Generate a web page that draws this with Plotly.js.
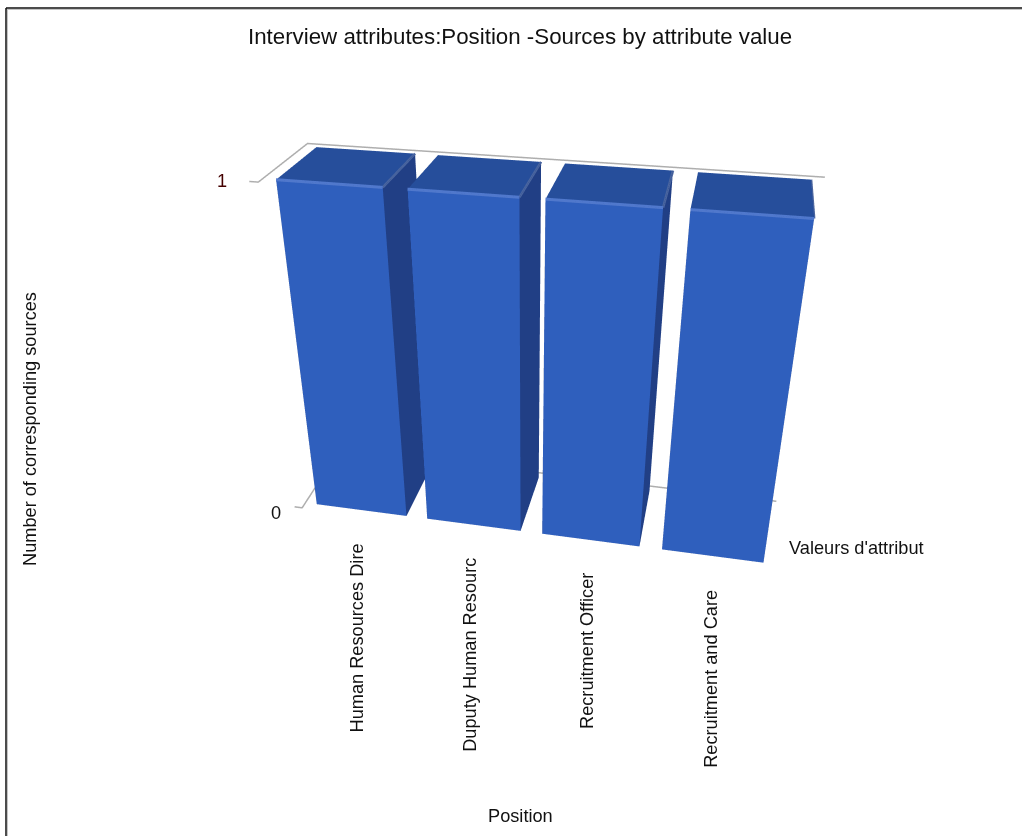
<!DOCTYPE html>
<html><head><meta charset="utf-8">
<script src="https://cdn.plot.ly/plotly-3.0.1.min.js"></script>
<style>html,body{margin:0;padding:0;background:#fff;overflow:hidden;width:1022px;height:836px}
#chart{position:absolute;left:0;top:-47px;width:1044px;height:883px}</style>
</head><body><div id="chart"></div>
<script>
const categories = ["Human Resources Dire", "Duputy Human Resourc", "Recruitment Officer", "Recruitment and Care"];
const counts = [1, 1, 1, 1];
const yTicks = [0, 1];
const chartTitle = "Interview attributes:Position -Sources by attribute value";
const yTitle = "Number of corresponding sources";
const xTitle = "Position";
const depthTitle = "Valeurs d'attribut";

const W = 1044, H = 883, TOP = 47, SCENE_H = 866;
const FRONT = "#2f5fbd", TOPFACE = "#264e9b", SIDE = "#213f85";
const FONT = "Liberation Sans";
const px = x => x / W, py = y => 1 - (y + TOP) / H;

// one box per category; flat face colours give the lit-from-front look
const xs=[], ys=[], zs=[], is=[], js=[], ks=[], cols=[];
const BAR_START = 0.105, BAR_END = 0.92, D0 = 0.08, D1 = 0.92;
counts.forEach((v, c) => {
  const n = xs.length, x0 = c + BAR_START, x1 = c + BAR_END;
  [[x0,D0,0],[x1,D0,0],[x1,D1,0],[x0,D1,0],[x0,D0,v],[x1,D0,v],[x1,D1,v],[x0,D1,v]]
    .forEach(p => { xs.push(p[0]); ys.push(p[1]); zs.push(p[2]); });
  const faces = [[0,1,5,4,FRONT],[1,2,6,5,SIDE],[4,5,6,7,TOPFACE],[3,0,4,7,SIDE],[2,3,7,6,SIDE],[0,3,2,1,SIDE]];
  faces.forEach(f => {
    is.push(n+f[0]); js.push(n+f[1]); ks.push(n+f[2]); cols.push(f[4]);
    is.push(n+f[0]); js.push(n+f[2]); ks.push(n+f[3]); cols.push(f[4]);
  });
});
const boxes = {type:"mesh3d", x:xs, y:ys, z:zs, i:is, j:js, k:ks, facecolor:cols, flatshading:true,
  lighting:{ambient:1,diffuse:0,specular:0,fresnel:0,roughness:1}, hoverinfo:"skip", showscale:false};

// bevel highlights along each box's top front and top right edges
const fx=[],fy=[],fz=[],sx=[],sy=[],sz=[];
counts.forEach((v,c)=>{const x0=c+BAR_START,x1=c+BAR_END;
  fx.push(x0,x1,null);fy.push(D0,D0,null);fz.push(v,v,null);
  sx.push(x1,x1,null);sy.push(D0,D1,null);sz.push(v,v,null);});
const bevelFront = {type:"scatter3d",mode:"lines",x:fx,y:fy,z:fz,line:{color:"#5078cc",width:6},hoverinfo:"skip",showlegend:false};
const bevelSide = {type:"scatter3d",mode:"lines",x:sx,y:sy,z:sz,line:{color:"#4a659f",width:5},hoverinfo:"skip",showlegend:false};

// wall outlines and the small tick stubs at each count
const STUB = -0.07;
const wx=[],wy=[],wz=[];
yTicks.forEach(t=>{wx.push(STUB,0,0,4.02,null);wy.push(0,0,1,1,null);wz.push(t,t,t,t,null);});
const walls = {type:"scatter3d",mode:"lines",x:wx,y:wy,z:wz,line:{color:"#aeaeae",width:3},hoverinfo:"skip",showlegend:false};

const hiddenAxis = r => ({visible:false,range:r,autorange:false,showspikes:false});
const ann3d = (x,y,z,text,o) => Object.assign({x,y,z,text,showarrow:false,font:{family:FONT,size:18.2,color:"#111"}},o);
const sceneAnn = categories.map((c,i)=>ann3d(i+0.5,0,0,c,{textangle:-90,xanchor:"center",yanchor:"top",yshift:-26}))
  .concat(yTicks.map(t=>ann3d(STUB,0,t,String(t),{xanchor:"right",xshift:t?-20:-12,yshift:t?0:-6,font:{family:FONT,size:18.2,color:t?"#400":"#111"}})));

const flat = (x,y,text,o) => Object.assign({xref:"paper",yref:"paper",x:px(x),y:py(y),text,showarrow:false,xanchor:"center",yanchor:"middle",font:{family:FONT,size:18.2,color:"#111"}},o);
const rule = (x0,y0,x1,y1,color,width) => ({type:"line",xref:"paper",yref:"paper",x0:px(x0),x1:px(x1),y0:py(y0),y1:py(y1),line:{color,width}});

const layout = {width:W,height:H,margin:{l:0,r:0,t:0,b:0,pad:0},paper_bgcolor:"#fff",showlegend:false,
  scene:{domain:{x:[0,1],y:[(H-SCENE_H)/H,1]},aspectmode:"manual",aspectratio:{x:1.1,y:0.2344,z:0.734},
    xaxis:hiddenAxis([-0.2,4.2]),yaxis:hiddenAxis([0,1]),zaxis:hiddenAxis([0,1]),
    camera:{eye:{x:0.3467,y:-1.80,z:1.004},center:{x:-0.0133,y:-0.112,z:-0.006},up:{x:-0.103,y:0.494,z:0.863},projection:{type:"perspective"}},
    annotations:sceneAnn},
  annotations:[
    flat(520,36,chartTitle,{font:{family:FONT,size:22.3,color:"#111"}}),
    flat(30,429,yTitle,{textangle:-90}),
    flat(520,816,xTitle),
    flat(787,548,depthTitle,{xanchor:"left"})
  ],
  shapes:[
    rule(6,9.5,1044,9.5,"#c4c4c4",1),
    rule(7.5,9,7.5,836,"#c4c4c4",1),
    rule(6,8,1044,8,"#111",1.5),
    rule(6,8,6,836,"#111",1.5)
  ]};
Plotly.newPlot("chart",[boxes,walls,bevelFront,bevelSide],layout,{displayModeBar:false,responsive:false});
</script></body></html>
